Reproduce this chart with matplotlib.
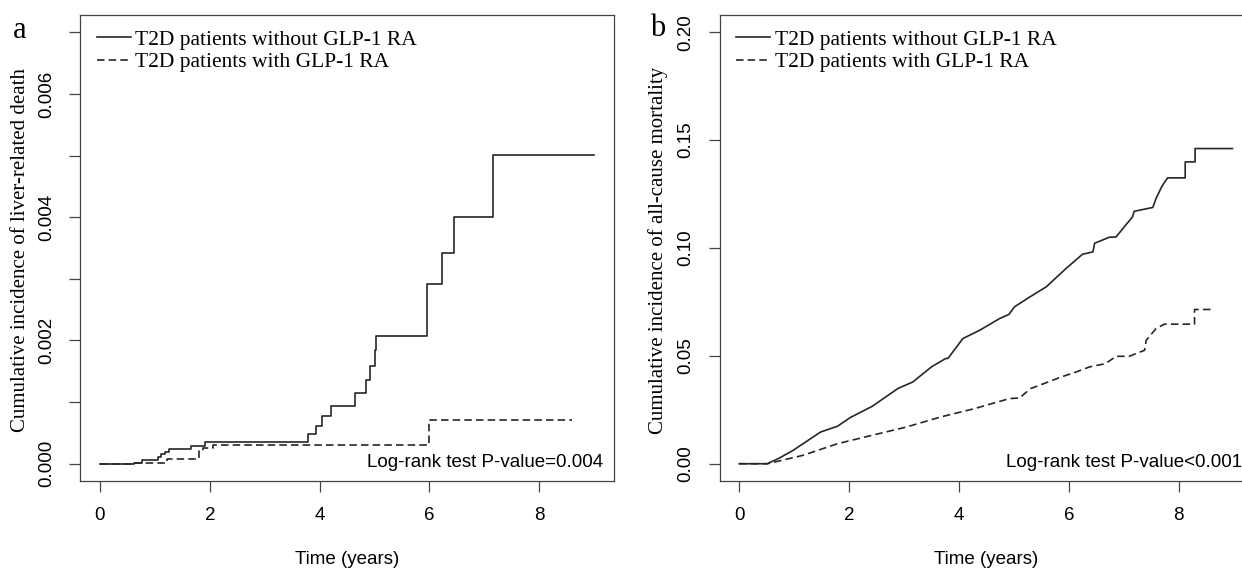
import numpy as np
import matplotlib
matplotlib.use("Agg")
import matplotlib.pyplot as plt

# panel a: liver-related death, step events (time in years, cumulative incidence)
a_without_t = [0, 0.62, 0.76, 1.06, 1.12, 1.19, 1.26, 1.65, 1.91, 3.78, 3.94, 4.04,
               4.21, 4.64, 4.85, 4.91, 5.01, 5.02, 5.95, 5.96, 6.22, 6.45, 7.15, 8.99]
a_without_v = [0, 0.00002, 0.000066, 0.00011, 0.00015, 0.00019, 0.000233, 0.000287,
               0.000346, 0.000476, 0.00061, 0.000767, 0.000934, 0.001144, 0.00136,
               0.00158, 0.00184, 0.00208, 0.00251, 0.00291, 0.00342, 0.0040, 0.00501,
               0.00501]
a_with_t = [0, 0.64, 1.22, 1.81, 1.88, 2.05, 5.99, 8.60]
a_with_v = [0, 0.00002, 0.00008, 0.00021, 0.00026, 0.0003, 0.00071, 0.00071]

# panel b: all-cause mortality
b_without_t = [0, 0.51, 0.72, 0.98, 1.48, 1.79, 2.02, 2.42, 2.89, 3.16, 3.50, 3.76, 3.80,
               4.07, 4.38, 4.74, 4.91, 5.01, 5.29, 5.59, 5.95, 6.25, 6.44, 6.47, 6.74,
               6.86, 7.01, 7.16, 7.19, 7.53, 7.59, 7.69, 7.75, 7.80, 8.12, 8.12, 8.30,
               8.30, 8.98]
b_without_v = [0, 0, 0.0025, 0.0062, 0.0147, 0.0174, 0.0214, 0.0266, 0.0349, 0.0379,
               0.0449, 0.0488, 0.0488, 0.058, 0.0619, 0.0673, 0.0692, 0.0727, 0.0773,
               0.082, 0.0905, 0.0971, 0.0982, 0.1022, 0.105, 0.1051, 0.1098, 0.1144,
               0.117, 0.1188, 0.123, 0.1283, 0.1307, 0.1325, 0.1325, 0.1399, 0.1399,
               0.1461, 0.1461]
b_with_t = [0, 0.51, 1.16, 1.79, 2.42, 3.04, 3.67, 4.29, 4.92, 5.11, 5.16, 5.30, 5.47,
            5.86, 6.13, 6.38, 6.67, 6.86, 7.10, 7.30, 7.38, 7.41, 7.59, 7.74, 8.29, 8.29,
            8.65]
b_with_v = [0, 0, 0.0039, 0.0093, 0.0132, 0.017, 0.0217, 0.0256, 0.0302, 0.0305, 0.0317,
            0.0348, 0.0364, 0.0402, 0.0425, 0.0449, 0.0464, 0.0498, 0.0498, 0.0518,
            0.0526, 0.0572, 0.0627, 0.0647, 0.0647, 0.0715, 0.0715]

legend_labels = ["T2D patients without GLP-1 RA", "T2D patients with GLP-1 RA"]
x_ticks = [0, 2, 4, 6, 8]
a_yticks = [0, 0.001, 0.002, 0.003, 0.004, 0.005, 0.006, 0.007]
a_ylabels = ["0.000", "", "0.002", "", "0.004", "", "0.006", ""]
b_yticks = [0, 0.05, 0.10, 0.15, 0.20]
b_ylabels = ["0.00", "0.05", "0.10", "0.15", "0.20"]

SERIF = "Liberation Serif"
SANS = "Liberation Sans"
LINE = "#262626"
BOX = "#444444"

W, H = 1242, 569
fig = plt.figure(figsize=(W / 100, H / 100), dpi=100)

ax_w = 533.8 / W
ax_h = 466 / H
ax_b = (H - 481) / H
ax_a = fig.add_axes([80.2 / W, ax_b, ax_w, ax_h])
ax_bb = fig.add_axes([719.5 / W, ax_b, ax_w, ax_h])


def style_axes(ax, yticks, ylabels, ylim):
    ax.set_xlim(-0.36, 9.36)
    ax.set_ylim(*ylim)
    for s in ax.spines.values():
        s.set_color(BOX)
        s.set_linewidth(0.9)
    ax.set_xticks(x_ticks)
    ax.set_xticklabels([str(t) for t in x_ticks], fontfamily=SANS, fontsize=13.5)
    ax.set_yticks(yticks)
    ax.set_yticklabels(ylabels, fontfamily=SANS, fontsize=13.5, rotation=90, va="center")
    ax.tick_params(axis="both", length=8, width=0.9, color=BOX, direction="out")
    ax.tick_params(axis="x", pad=11)
    ax.tick_params(axis="y", pad=10)
    # x label sits well below the tick labels, as in base R graphics
    bbox = ax.get_position()
    fig.text(bbox.x0 + bbox.width / 2, 1 - 559 / H, "Time (years)", ha="center",
             va="center", fontfamily=SANS, fontsize=13.5)
    ax.legend(legend_labels, loc="upper left", bbox_to_anchor=(0.031, 0.969),
              frameon=False, prop={"family": SERIF, "size": 15.5},
              handlelength=1.6, handletextpad=0.2, labelspacing=0.12,
              borderpad=0, borderaxespad=0)


ax_a.plot(a_without_t, a_without_v, drawstyle="steps-post", color=LINE, lw=1.2)
ax_a.plot(a_with_t, a_with_v, drawstyle="steps-post", color=LINE, lw=1.2,
          linestyle=(0, (4.5, 2.5)))
style_axes(ax_a, a_yticks, a_ylabels, (-0.00028, 0.00728))

ax_bb.plot(b_without_t, b_without_v, color=LINE, lw=1.2)
ax_bb.plot(b_with_t, b_with_v, color=LINE, lw=1.2, linestyle=(0, (4.5, 2.5)))
style_axes(ax_bb, b_yticks, b_ylabels, (-0.008, 0.208))

ax_a.text(0.98, 0.030, "Log-rank test P-value=0.004", transform=ax_a.transAxes,
          ha="right", va="baseline", fontfamily=SANS, fontsize=13.5)
ax_bb.text(0.98, 0.030, "Log-rank test P-value<0.001", transform=ax_bb.transAxes,
           ha="right", va="baseline", fontfamily=SANS, fontsize=13.5)

mid_y = 1 - 250 / H
fig.text(21 / W, mid_y, "Cumulative incidence of liver-related death", rotation=90,
         ha="center", va="center", fontfamily=SERIF, fontsize=15)
fig.text(658 / W, mid_y, "Cumulative incidence of all-cause mortality", rotation=90,
         ha="center", va="center", fontfamily=SERIF, fontsize=15)

fig.text(20 / W, 1 - 30 / H, "a", ha="center", va="center", fontfamily=SERIF, fontsize=22)
fig.text(658 / W, 1 - 29 / H, "b", ha="center", va="center", fontfamily=SERIF, fontsize=22)

fig.savefig("out.png", dpi=100)
